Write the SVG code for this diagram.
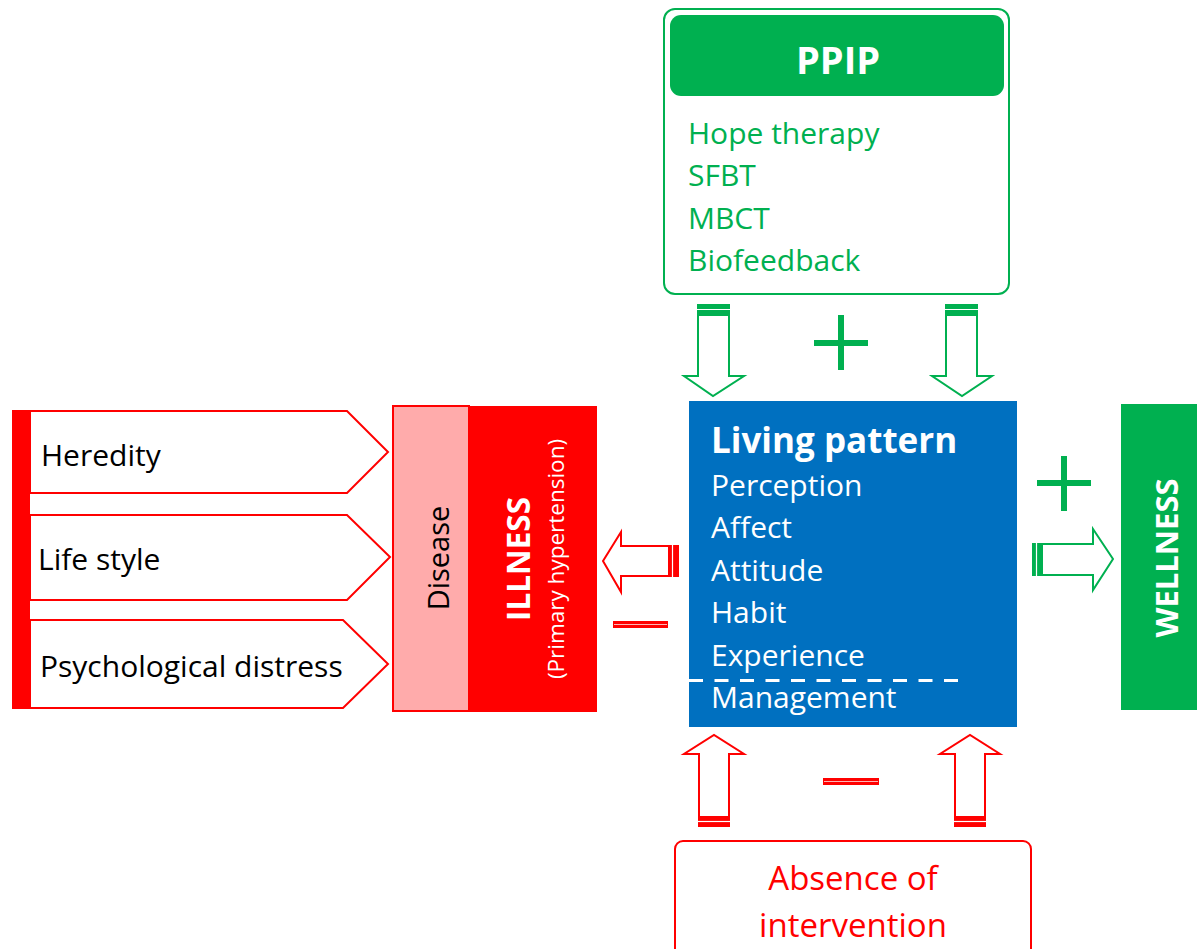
<svg xmlns="http://www.w3.org/2000/svg" width="1197" height="949" viewBox="0 0 1197 949">
  <style>
    text { font-family: "Open Sans", "Noto Sans", "Liberation Sans", sans-serif; }
    .g { fill: #00b050; }
    .r { fill: #ff0000; }
    .w { fill: #ffffff; }
    .k { fill: #000000; }
    .b { font-weight: bold; }
    .outG { fill: #ffffff; stroke: #00b050; stroke-width: 2; }
    .outR { fill: #ffffff; stroke: #ff0000; stroke-width: 2; }
    .sep { stroke: #ffffff; stroke-width: 1.2; }
    .minus { stroke: #ffffff; stroke-width: 1; stroke-opacity: 0.7; }
  </style>

  <!-- intervention box -->
  <g id="ppip">
    <rect x="664" y="9" width="345" height="285" rx="11" class="outG"/>
    <rect x="670" y="15" width="334" height="81" rx="11" class="g"/>
    <text x="838" y="74" font-size="38" text-anchor="middle" class="w b">PPIP</text>
    <text x="688" y="144" font-size="30" class="g">Hope therapy</text>
    <text x="688" y="186" font-size="30" class="g">SFBT</text>
    <text x="688" y="229" font-size="30" class="g">MBCT</text>
    <text x="688" y="271" font-size="30" class="g">Biofeedback</text>
  </g>

  <!-- central living pattern box -->
  <g id="living">
    <rect x="689" y="401" width="328" height="326" fill="#0070c0"/>
    <text x="711" y="453" font-size="35" class="w b">Living pattern</text>
    <text x="711" y="496" font-size="30" class="w">Perception</text>
    <text x="711" y="538" font-size="30" class="w">Affect</text>
    <text x="711" y="581" font-size="30" class="w">Attitude</text>
    <text x="711" y="623" font-size="30" class="w">Habit</text>
    <text x="711" y="666" font-size="30" class="w">Experience</text>
    <line x1="689" y1="680.5" x2="960" y2="680.5" stroke="#ffffff" stroke-width="3" stroke-dasharray="14 11.5"/>
    <text x="711" y="708" font-size="30" class="w">Management</text>
  </g>

  <!-- causes -->
  <g id="causes">
    <rect x="12" y="410" width="18" height="299" class="r"/>
    <polygon points="30,411 347,411 388,452 347,493 30,493" class="outR"/>
    <text x="41" y="466" font-size="30" class="k">Heredity</text>
    <polygon points="30,515 347,515 390,557 347,600 30,600" class="outR"/>
    <text x="38" y="570" font-size="30" class="k">Life style</text>
    <polygon points="30,620 343,620 388,664 343,708 30,708" class="outR"/>
    <text x="40" y="677" font-size="30" class="k">Psychological distress</text>
  </g>

  <g id="disease">
    <rect x="393" y="406" width="76" height="305" fill="#ffabab" stroke="#ff0000" stroke-width="2"/>
    <text transform="translate(449,558) rotate(-90)" font-size="29" text-anchor="middle" class="k">Disease</text>
  </g>

  <g id="illness">
    <rect x="469" y="406" width="128" height="306" class="r"/>
    <text transform="translate(530,559) rotate(-90)" font-size="31.5" text-anchor="middle" class="w b">ILLNESS</text>
    <text transform="translate(564,559) rotate(-90)" font-size="22.5" text-anchor="middle" class="w">(Primary hypertension)</text>
  </g>

  <g id="wellness">
    <rect x="1121" y="404" width="76" height="306" class="g"/>
    <text transform="translate(1178,558) rotate(-90)" font-size="31" text-anchor="middle" class="w b">WELLNESS</text>
  </g>

  <g id="absence">
    <rect x="675" y="841" width="356" height="130" rx="8" class="outR"/>
    <text x="853" y="890" font-size="33" text-anchor="middle" class="r">Absence of</text>
    <text x="853" y="937" font-size="33" text-anchor="middle" class="r">intervention</text>
  </g>

  <!-- connectors: block arrows and signs -->
  <g id="connectors">
    <!-- PPIP down to living pattern -->
    <polygon points="698,315 729,315 729,376 744,376 713,396 684,376 698,376" class="outG"/>
    <rect x="697" y="304" width="33" height="11" class="g"/>
    <line x1="697" y1="309.5" x2="730" y2="309.5" class="sep"/>
    <polygon points="946,315 977,315 977,376 992,376 962,396 932,376 946,376" class="outG"/>
    <rect x="945" y="304" width="33" height="11" class="g"/>
    <line x1="945" y1="309.5" x2="978" y2="309.5" class="sep"/>
    <rect x="814" y="340" width="54" height="6" class="g"/>
    <rect x="838" y="315" width="6" height="55" class="g"/>

    <!-- living pattern to illness -->
    <polygon points="669,546 621,546 621,532 603,561 621,592 621,576 669,576" class="outR"/>
    <rect x="668" y="545" width="11" height="32" class="r"/>
    <line x1="672.5" y1="545" x2="672.5" y2="577" class="sep"/>
    <rect x="613" y="621" width="55" height="7" class="r"/>
    <line x1="614" y1="624.5" x2="667" y2="624.5" class="minus"/>

    <!-- living pattern to wellness -->
    <polygon points="1042,544 1093,544 1093,529 1113,559 1093,590 1093,575 1042,575" class="outG"/>
    <rect x="1032" y="543" width="10" height="33" class="g"/>
    <line x1="1036.5" y1="543" x2="1036.5" y2="576" class="sep"/>
    <rect x="1037" y="480" width="54" height="6" class="g"/>
    <rect x="1061" y="456" width="6" height="55" class="g"/>

    <!-- absence of intervention up to living pattern -->
    <polygon points="699,817 729,817 729,754 744,754 714,735 684,754 699,754" class="outR"/>
    <rect x="698" y="817" width="32" height="10" class="r"/>
    <line x1="698" y1="821.5" x2="730" y2="821.5" class="sep"/>
    <polygon points="955,817 985,817 985,754 1000,754 970,735 940,754 955,754" class="outR"/>
    <rect x="954" y="817" width="32" height="10" class="r"/>
    <line x1="954" y1="821.5" x2="986" y2="821.5" class="sep"/>
    <rect x="823" y="778" width="56" height="7" class="r"/>
    <line x1="824" y1="781.5" x2="878" y2="781.5" class="minus"/>
  </g>
</svg>
